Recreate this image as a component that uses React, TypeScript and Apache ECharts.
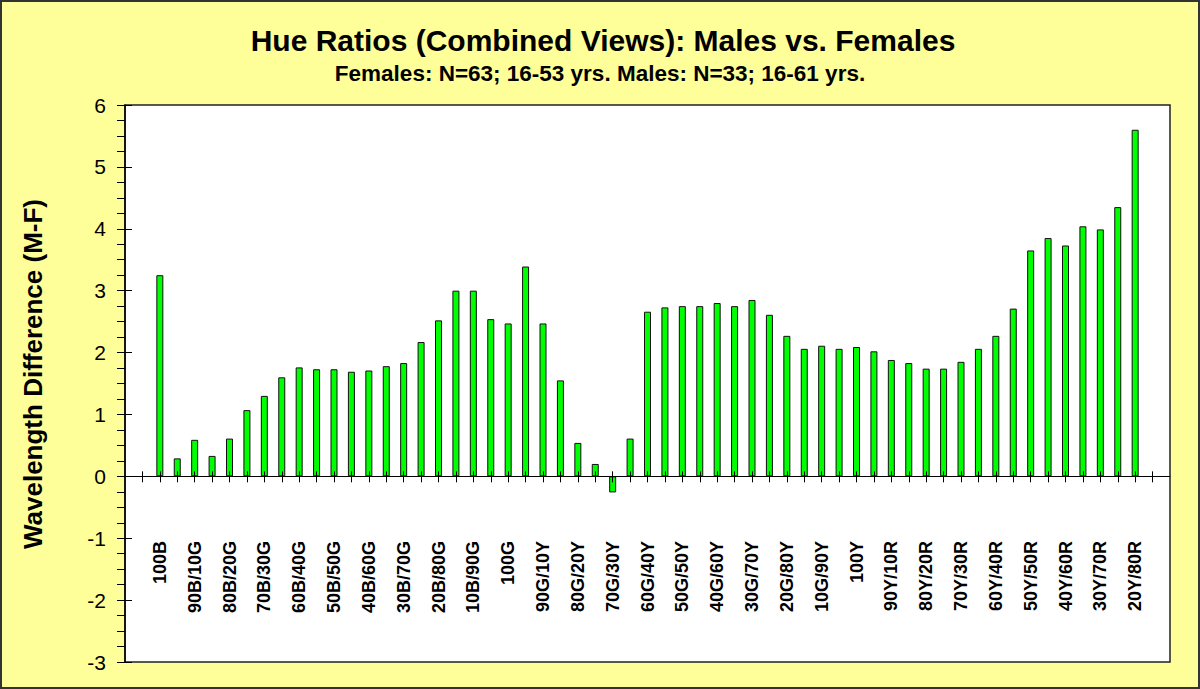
import { useEffect, useRef } from 'react';
import * as echarts from 'echarts';

const TITLE = 'Hue Ratios (Combined Views): Males vs. Females';
const SUBTITLE = 'Females: N=63; 16-53 yrs. Males: N=33; 16-61 yrs.';
const Y_NAME = 'Wavelength Difference (M-F)';

const categories = [
  '100B', '95B/5G', '90B/10G', '85B/15G', '80B/20G', '75B/25G', '70B/30G', '65B/35G',
  '60B/40G', '55B/45G', '50B/50G', '45B/55G', '40B/60G', '35B/65G', '30B/70G', '25B/75G',
  '20B/80G', '15B/85G', '10B/90G', '5B/95G',
  '100G', '95G/5Y', '90G/10Y', '85G/15Y', '80G/20Y', '75G/25Y', '70G/30Y', '65G/35Y',
  '60G/40Y', '55G/45Y', '50G/50Y', '45G/55Y', '40G/60Y', '35G/65Y', '30G/70Y', '25G/75Y',
  '20G/80Y', '15G/85Y', '10G/90Y', '5G/95Y',
  '100Y', '95Y/5R', '90Y/10R', '85Y/15R', '80Y/20R', '75Y/25R', '70Y/30R', '65Y/35R',
  '60Y/40R', '55Y/45R', '50Y/50R', '45Y/55R', '40Y/60R', '35Y/65R', '30Y/70R', '25Y/75R',
  '20Y/80R',
];

const values = [
  3.25, 0.29, 0.59, 0.33, 0.61, 1.07, 1.30, 1.60,
  1.76, 1.73, 1.73, 1.69, 1.71, 1.78, 1.83, 2.17,
  2.52, 3.00, 3.00, 2.54,
  2.47, 3.39, 2.47, 1.55, 0.54, 0.20, -0.26, 0.61,
  2.66, 2.73, 2.75, 2.75, 2.80, 2.75, 2.85, 2.61,
  2.27, 2.06, 2.11, 2.06,
  2.09, 2.02, 1.88, 1.83, 1.74, 1.74, 1.85, 2.06,
  2.27, 2.71, 3.65, 3.85, 3.73, 4.04, 3.99, 4.35,
  5.60,
];

const Y_MIN = -3;
const Y_MAX = 6;
const Y_STEP = 1;

const FONT = "'Liberation Sans', Arial, Helvetica, sans-serif";

export default function App() {
  const ref = useRef<HTMLDivElement>(null);

  useEffect(() => {
    if (!ref.current) return;
    const chart = echarts.init(ref.current, null, { renderer: 'svg' });

    const axisData = ['', '', ...categories, '', ''];
    const seriesData: (number | string)[] = ['-', '-', ...values, '-', '-'];
    const n = axisData.length;
    const tickShow = (i: number) => i > 0 && i < n - 1;
    const labelShow = (i: number) => i >= 2 && i <= n - 3 && (i - 2) % 2 === 0;

    const yBase = {
      type: 'value',
      min: Y_MIN,
      max: Y_MAX,
      interval: Y_STEP,
      position: 'left',
      splitLine: { show: false },
    };

    const option: any = {
      animation: false,
      backgroundColor: '#FFFF99',
      textStyle: { fontFamily: FONT },
      grid: {
        left: 125,
        top: 105,
        right: 30,
        bottom: 27,
        show: true,
        backgroundColor: '#ffffff',
        borderColor: '#222222',
        borderWidth: 1.5,
        containLabel: false,
        outerBoundsMode: 'none',
      },
      xAxis: [
        {
          type: 'category',
          data: axisData,
          boundaryGap: false,
          position: 'bottom',
          z: 5,
          axisLine: { show: true, onZero: true, onZeroAxisIndex: 0, lineStyle: { color: '#000', width: 1 } },
          axisTick: { show: true, inside: false, length: 6, interval: (i: number) => tickShow(i), lineStyle: { color: '#000', width: 1 } },
          axisLabel: {
            show: true,
            interval: (i: number) => labelShow(i),
            rotate: 90,
            margin: -121,
            color: '#000',
            fontFamily: FONT,
            fontWeight: 'bold',
            fontSize: 18,
          },
          splitLine: { show: false },
        },
        {
          type: 'category',
          data: axisData,
          boundaryGap: false,
          position: 'bottom',
          z: 5,
          axisLine: { show: false, onZero: true, onZeroAxisIndex: 1 },
          axisTick: { show: true, inside: true, length: 5, interval: (i: number) => tickShow(i), lineStyle: { color: '#000', width: 1 } },
          axisLabel: { show: false },
          splitLine: { show: false },
        },
      ],
      yAxis: [
        {
          ...yBase,
          z: 5,
          axisLine: { show: true, onZero: false, lineStyle: { color: '#000', width: 1.5 } },
          axisTick: { show: true, inside: false, length: 8, lineStyle: { color: '#000', width: 1 } },
          minorTick: { show: true, splitNumber: 4, length: 8, lineStyle: { color: '#000', width: 1 } },
          axisLabel: { show: true, margin: 19, color: '#000', fontFamily: FONT, fontSize: 21 },
        },
        {
          ...yBase,
          z: 5,
          axisLine: { show: false, onZero: false },
          axisTick: { show: true, inside: true, length: 7, lineStyle: { color: '#000', width: 1 } },
          axisLabel: { show: false },
        },
      ],
      series: [
        {
          type: 'bar',
          xAxisIndex: 0,
          yAxisIndex: 0,
          data: seriesData,
          barWidth: 7,
          itemStyle: { color: '#00FF00', borderColor: '#111111', borderWidth: 1 },
        },
      ],
      graphic: [
        {
          type: 'rect',
          shape: { x: 1, y: 1, width: 1198, height: 687 },
          style: { fill: 'none', stroke: '#333333', lineWidth: 2 },
          silent: true,
        },
        {
          type: 'text',
          x: 603,
          y: 40,
          style: {
            text: TITLE,
            fill: '#000',
            font: `bold 30px ${FONT}`,
            textAlign: 'center',
            textVerticalAlign: 'middle',
          },
        },
        {
          type: 'text',
          x: 600,
          y: 73,
          style: {
            text: SUBTITLE,
            fill: '#000',
            font: `bold 22.5px ${FONT}`,
            textAlign: 'center',
            textVerticalAlign: 'middle',
          },
        },
        {
          type: 'text',
          x: 33,
          y: 374,
          rotation: Math.PI / 2,
          style: {
            text: Y_NAME,
            fill: '#000',
            font: `bold 26px ${FONT}`,
            textAlign: 'center',
            textVerticalAlign: 'middle',
          },
        },
      ],
    };

    chart.setOption(option);
    return () => {
      chart.dispose();
    };
  }, []);

  return (
    <div
      ref={ref}
      style={{ position: 'absolute', left: 0, top: 0, width: 1200, height: 689 }}
    />
  );
}
